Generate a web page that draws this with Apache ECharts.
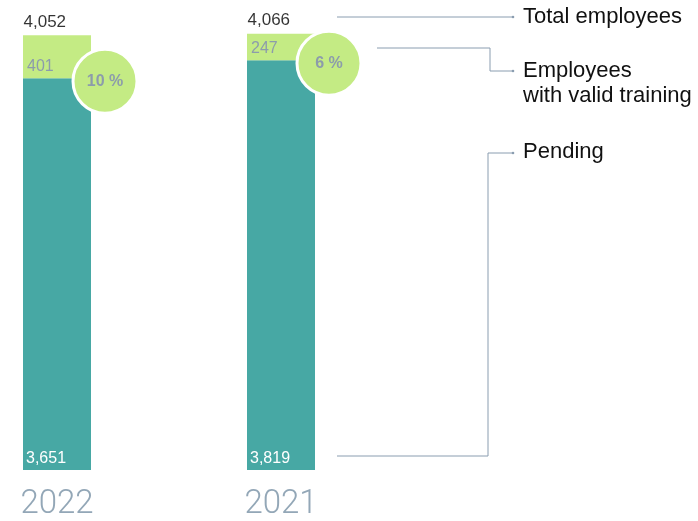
<!DOCTYPE html>
<html>
<head>
<meta charset="utf-8">
<script src="https://cdn.jsdelivr.net/npm/echarts@6/dist/echarts.min.js"></script>
<style>
  html, body { margin: 0; padding: 0; background: #fff; }
  #chart { width: 698px; height: 521px; }
</style>
</head>
<body>
<div id="chart"></div>
<script>
// Employees by training status, per year
const years = ['2022', '2021'];
const totalEmployees = [4052, 4066];
const withTraining = [401, 247];
const pending = [3651, 3819];
const legendLabels = ['Total employees', 'Employees\nwith valid training', 'Pending'];

const TEAL = '#47a8a4';
const GREEN = '#c4eb84';
const GREY_TEXT = '#8c9cab';
const LINE = '#8a9db0';
const FONT = '"Liberation Sans", Arial, sans-serif';

const fmt = v => v.toLocaleString('en-US');
const share = years.map((_, i) => Math.round(withTraining[i] / totalEmployees[i] * 100));

const chart = echarts.init(document.getElementById('chart'));

function leader(points) {
  const last = points[points.length - 1];
  return [
    { type: 'polyline', shape: { points }, style: { stroke: LINE, lineWidth: 1, fill: null } },
    { type: 'circle', shape: { cx: last[0], cy: last[1], r: 1.3 }, style: { fill: LINE } }
  ];
}
function legendText(text, x, y) {
  return {
    type: 'text', x, y,
    style: { text, font: '22px ' + FONT, fill: '#111', verticalAlign: 'top', lineHeight: 25 }
  };
}

chart.setOption({
  animation: false,
  grid: { left: 57, right: 417, top: 0, bottom: 50 },
  xAxis: {
    type: 'category',
    data: years,
    boundaryGap: false,
    axisLine: { show: false },
    axisTick: { show: false },
    axisLabel: {
      margin: 18,
      fontSize: 33,
      fontWeight: 300,
      fontFamily: 'Roboto, sans-serif',
      color: '#93a7b7'
    }
  },
  yAxis: { type: 'value', min: 0, max: 4380, show: false },
  series: [
    {
      name: 'Pending',
      type: 'bar',
      stack: 'emp',
      barWidth: 68,
      data: pending,
      itemStyle: { color: TEAL },
      label: {
        show: true, position: 'insideBottomLeft', distance: 3,
        formatter: p => fmt(p.value),
        color: '#fff', fontSize: 16, fontFamily: FONT
      }
    },
    {
      name: 'Employees with valid training',
      type: 'bar',
      stack: 'emp',
      barWidth: 68,
      data: withTraining,
      itemStyle: { color: GREEN },
      label: {
        show: true, position: 'insideBottomLeft', distance: 4,
        formatter: p => fmt(p.value),
        color: GREY_TEXT, fontSize: 16, fontFamily: FONT
      }
    },
    {
      name: 'Total employees',
      type: 'scatter',
      data: totalEmployees.map((v, i) => [i, v]),
      symbolSize: 1,
      itemStyle: { color: 'rgba(0,0,0,0)' },
      label: {
        show: true, position: [-33, -21],
        formatter: p => fmt(p.value[1]),
        color: '#000', fontSize: 17, fontFamily: FONT
      },
      z: 5
    },
    {
      name: 'Share trained',
      type: 'scatter',
      data: pending.map((v, i) => [i, v, share[i]]),
      symbolSize: 64,
      symbolOffset: [48, 3],
      itemStyle: { color: GREEN, borderColor: '#fff', borderWidth: 3, opacity: 1 },
      label: {
        show: true, position: 'inside',
        formatter: p => p.value[2] + ' %',
        color: GREY_TEXT, fontSize: 16, fontWeight: 'bold', fontFamily: FONT
      },
      z: 6
    }
  ],
  graphic: [
    ...leader([[337, 17], [513, 17]]),
    ...leader([[377, 48], [490, 48], [490, 71], [513, 71]]),
    ...leader([[337, 456], [488, 456], [488, 153], [513, 153]]),
    legendText(legendLabels[0], 523, 4),
    legendText(legendLabels[1], 523, 58),
    legendText(legendLabels[2], 523, 139)
  ]
});
</script>
</body>
</html>
